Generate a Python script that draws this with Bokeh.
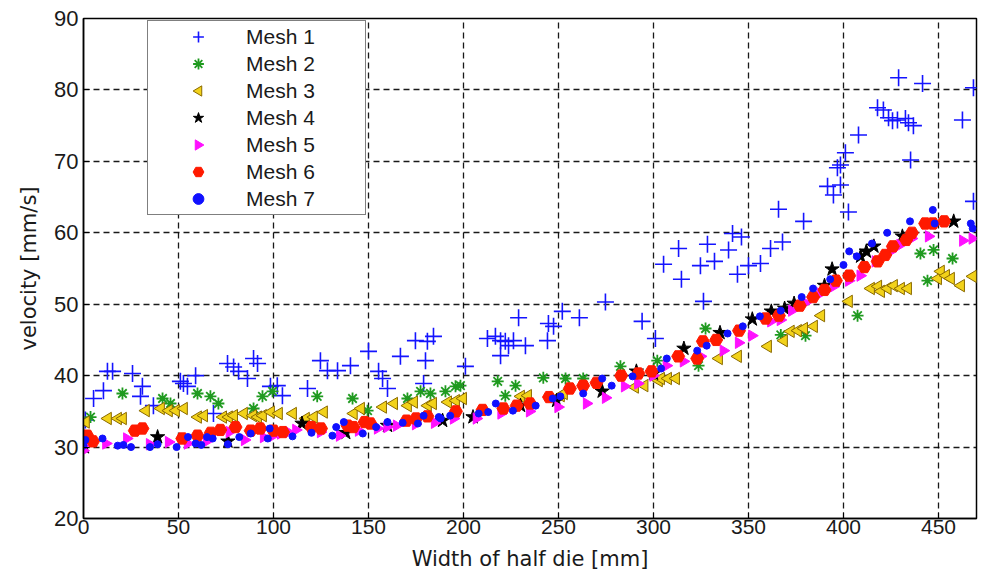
from bokeh.plotting import figure
from bokeh.models import Range1d, FixedTicker, Legend, LegendItem, CustomJS
from bokeh.embed import file_html
from bokeh.resources import INLINE

# ---------------- data ----------------
mesh1_x = [1, 5.3, 10.5, 12.6, 15.3, 25.8, 30, 31, 36.8, 51, 52.6, 54.7, 59, 68.4, 75.8, 79, 81.6,
           86.3, 89.5, 91.6, 98.4, 102, 104.7, 117.9, 124.7, 128.4, 133.7, 140.5, 150, 155.3, 157.4,
           160, 166.8, 174.7, 179, 180, 181, 184.2, 201, 212.6, 216.8, 219.5, 219.5, 222, 223.7,
           226.3, 229, 232.6, 244.2, 244.7, 247.4, 252, 261, 274.7, 294, 301, 305.3, 313.2, 314.7,
           324.7, 326.3, 328.4, 332.1, 339.5, 341.6, 344.2, 346.3, 350, 356.3, 361.6, 365.8, 367.9,
           379, 391.6, 394.7, 396.8, 398.4, 398.4, 401, 402.6, 407.9, 417.9, 421, 423.7, 425.8,
           428.4, 429, 432.6, 434.2, 435.3, 436.8, 441.6, 462.6, 468.4, 468.4]
mesh1_y = [33.8, 36.8, 37.9, 40.6, 40.6, 40.3, 37.1, 38.5, 35.8, 39.2, 38.9, 38.5, 40, 34.7, 41.7,
           41.2, 40.6, 39.6, 42.4, 41.7, 38.5, 38.6, 37.2, 38.2, 42.1, 40.7, 40.7, 41.4, 43.4, 40.6,
           39.6, 38.2, 42.7, 44.9, 38.9, 42.1, 44.8, 45.5, 41.3, 45.2, 45.5, 44.9, 42.8, 44.8, 44.2,
           44.9, 48.1, 44.2, 44.9, 47.3, 46.9, 49, 48.1, 50.3, 47.6, 45.2, 55.6, 57.8, 53.5, 55.4,
           50.4, 58.4, 56, 57.6, 59.9, 54.2, 59.4, 55.4, 55.7, 57.8, 63.3, 58.7, 61.6, 66.5, 65.3,
           69.1, 66.7, 69.5, 71.2, 62.9, 73.7, 77.5, 77.2, 76.1, 75.7, 75.8, 81.7, 76, 75.4, 70.2,
           75, 80.9, 75.8, 80.3, 64.4]

mesh2_x = [3.7, 20.5, 41.6, 45.8, 60, 66.8, 71, 89.5, 94.2, 99.5, 123, 141.6, 149.5, 170.5, 177.4,
           182.6, 190.5, 195.8, 198.4, 218, 222, 227.4, 242, 253.7, 263, 282.6, 302, 323.7, 327.4,
           367, 380, 407.4, 440.5, 444.2, 447.4, 457.4]
mesh2_y = [34.2, 37.5, 36.8, 36.1, 37.5, 37.1, 36.1, 35.4, 37.1, 37.8, 37.1, 36.8, 35.1, 36.8, 37.8,
           37.5, 37.8, 38.5, 38.6, 39.2, 37.2, 38.6, 39.7, 39.6, 39.6, 41.3, 42.1, 41.4, 46.6,
           45.7, 45.6, 48.4, 57.1, 53.3, 57.6, 56.4]

mesh3_x = [1, 12.6, 17.9, 20.5, 32.6, 40.5, 44.7, 48.4, 52.6, 60, 63.2, 73.2, 76.3, 79, 84.2, 89,
           91.6, 94.2, 98.4, 102.6, 110, 116.8, 121, 126.3, 142, 145.8, 157.4, 163.2, 170.5, 173.7,
           181, 183.7, 191.6, 195.8, 199.5, 230, 233.7, 251, 252.6, 290, 295, 302.6, 303.7, 307.4,
           311.6, 334.2, 344.2, 360, 368.4, 372, 375.8, 379, 384.2, 388, 402.6, 414.2, 418, 419.5,
           423, 426.3, 430, 433.7, 449.5, 451, 453.7, 456.3, 461.6, 467.9]
mesh3_y = [33.5, 34, 34, 34, 35.1, 35.4, 35.1, 35.1, 35.4, 34.2, 34.4, 34.2, 34.2, 34.4, 34.7, 34.4,
           34.2, 34.4, 34.9, 34.7, 34.7, 34, 34.2, 34.9, 34.7, 35.4, 35.6, 36.1, 35.8, 36.3, 35.8,
           36.1, 36.3, 36.5, 36.8, 37.1, 37.2, 37.2, 37.5, 38.4, 38.6, 39.3, 39.6, 39.6, 39.6, 42.4,
           42.7, 44.1, 44.9, 46.2, 46.3, 46.6, 46.9, 48.4, 50.4, 52.2, 52.5, 51.8, 52.2, 52.6, 52.2,
           52.2, 53.6, 54.6, 54, 53.6, 52.6, 53.9]

mesh4_x = [0.5, 39, 76, 115, 138, 160, 189, 205, 230, 249, 273, 291, 300, 316, 335, 352, 362, 369,
           374, 390, 394, 409, 412, 416, 431, 458]
mesh4_y = [30, 31.4, 30.8, 33.3, 32, 33, 33.7, 34.2, 35.8, 36.5, 37.8, 40.6, 40.3, 43.8, 46, 47.9,
           49, 49.4, 50.1, 52.6, 54.9, 56.7, 57.4, 58.1, 59.5, 61.6]

mesh5_x = [0, 4, 12, 23, 35, 45, 55, 65, 77, 85, 95, 100, 104, 108, 112, 125, 135, 145, 155, 160,
           165, 175, 185, 195, 207, 220, 235, 250, 265, 275, 285, 292, 300, 307, 316, 325, 337, 345,
           352, 362, 367, 373, 380, 388, 395, 403, 409, 417, 425, 430, 436, 445, 463, 468]
mesh5_y = [29.5, 30.7, 30.5, 31.2, 30.4, 30.7, 30.5, 30.8, 32.1, 31, 31.4, 31.6, 31.9, 32.1, 32.4,
           32.1, 31.6, 32.3, 32.6, 32.8, 33, 33.2, 33.4, 34, 34, 34.7, 35, 35.6, 36.1, 36.9, 38.5,
           38.9, 40, 41.4, 42, 42.7, 43.5, 44.6, 45.6, 47.6, 47.8, 49.1, 50.2, 51.5, 52.5, 53.3, 54,
           56, 57.4, 58.3, 59.2, 59.5, 58.9, 59.2]

mesh6_x = [0, 2, 5, 27, 31, 52, 60, 67, 72, 80, 88, 93, 100, 105, 120, 125, 139, 142, 148, 151,
           170, 175, 181, 196, 210, 221, 228, 235, 245, 256, 263, 270, 283, 292, 299, 313, 323, 326,
           333, 345, 359, 366, 377, 384, 390, 396, 403, 411, 418, 422, 426, 433, 436, 443, 447, 453]
mesh6_y = [31.2, 31.6, 30.8, 32.3, 32.6, 31.2, 31.6, 32, 32.4, 32.8, 32.3, 32.6, 32.3, 32.1, 32.8,
           32.6, 33, 32.8, 33.5, 33.3, 33.7, 34, 34.3, 35, 35.2, 35.4, 35.8, 36.1, 37, 38.2, 38.6,
           39, 40, 40.3, 40.6, 42.7, 42.4, 44.8, 45, 46.3, 48, 48.4, 49.8, 51, 52, 53.3, 54, 55.2,
           56, 56.9, 58.1, 59, 60, 61.3, 61.3, 61.6]

mesh7_x = [0, 1, 10, 18, 21, 25, 35, 39, 49, 55, 59, 62, 65, 68, 76, 82, 88, 97, 98, 110, 120, 131,
           133, 137, 147, 154, 160, 168, 176, 179, 187, 188, 193, 208, 213, 217, 226, 238, 247, 251,
           263, 273, 278, 289, 304, 307, 323, 328, 339, 347, 356, 367, 378, 384, 393, 400, 403, 407,
           415, 423, 435, 447, 448, 467, 468]
mesh7_y = [30.2, 31, 31.2, 30.2, 30.3, 30, 30, 30.4, 30, 31.4, 30.5, 30.3, 31.4, 31.2, 30.4, 31.4,
           31.9, 31.2, 32.6, 31.5, 32, 31.6, 32.8, 33.5, 31.9, 32.8, 33.5, 33.4, 33.3, 34.4, 34.2, 34,
           34.4, 34.7, 34.9, 36.1, 35.1, 35.8, 36.8, 37.1, 37.5, 39.6, 38.6, 39.9, 41, 42.4, 43.5,
           44.2, 45.9, 46.9, 48.3, 49.1, 51, 52.2, 53.5, 55.5, 57.4, 56.7, 58.5, 60, 61.6, 63.2,
           61.3, 61.3, 60.6]

x_ticks = [0, 50, 100, 150, 200, 250, 300, 350, 400, 450]
y_ticks = [20, 30, 40, 50, 60, 70, 80, 90]
series_names = ["Mesh 1", "Mesh 2", "Mesh 3", "Mesh 4", "Mesh 5", "Mesh 6", "Mesh 7"]

FONT = "Liberation Sans"
NARROW = "'Liberation Sans Narrow', 'Liberation Sans', sans-serif"
LABEL_FONT = "DejaVu Sans"

# custom left / right pointing triangle markers
tri_left = CustomJS(code="""
export default (args, obj, {ctx, i, r, visuals}) => {
    ctx.beginPath()
    ctx.moveTo(-r, 0)
    ctx.lineTo(0.6*r, -0.95*r)
    ctx.lineTo(0.6*r, 0.95*r)
    ctx.closePath()
    visuals.fill.apply(ctx, i)
    visuals.line.apply(ctx, i)
}
""")
tri_right = CustomJS(code="""
export default (args, obj, {ctx, i, r, visuals}) => {
    ctx.beginPath()
    ctx.moveTo(r, 0)
    ctx.lineTo(-0.6*r, -0.95*r)
    ctx.lineTo(-0.6*r, 0.95*r)
    ctx.closePath()
    visuals.fill.apply(ctx, i)
    visuals.line.apply(ctx, i)
}
""")

p = figure(width=994, height=578, output_backend="svg", toolbar_location=None,
           x_range=Range1d(0, 470), y_range=Range1d(20, 90),
           min_border_left=83, min_border_right=18, min_border_top=18, min_border_bottom=60)
p.background_fill_color = "white"
p.border_fill_color = "white"
p.outline_line_color = "black"
p.outline_line_width = 1.5

for ax in (p.xaxis, p.yaxis):
    ax.axis_line_color = "black"
    ax.axis_line_width = 1.5
    ax.major_tick_in = 6
    ax.major_tick_out = 0
    ax.minor_tick_line_color = None
    ax.major_tick_line_color = "black"
    ax.major_label_text_color = "#1a1a1a"
    ax.axis_label_text_font = LABEL_FONT
    ax.axis_label_text_font_size = "21px"
    ax.axis_label_text_font_style = "normal"
    ax.axis_label_text_color = "#1a1a1a"

p.xaxis.major_label_text_font = NARROW
p.xaxis.major_label_text_font_size = "21px"
p.yaxis.major_label_text_font = FONT
p.yaxis.major_label_text_font_size = "22px"

p.xaxis.ticker = FixedTicker(ticks=x_ticks)
p.yaxis.ticker = FixedTicker(ticks=y_ticks)
p.xaxis.axis_label = "Width of half die [mm]"
p.yaxis.axis_label = "velocity [mm/s]"
p.xaxis.major_label_standoff = 1
p.xaxis.axis_label_standoff = 10
p.yaxis.major_label_standoff = 5
p.yaxis.axis_label_standoff = 10

for g in (p.xgrid, p.ygrid):
    g.grid_line_color = "black"
    g.grid_line_dash = "6 4"
    g.grid_line_width = 1.3
    g.grid_line_alpha = 0.9

r1 = p.scatter(mesh1_x, mesh1_y, marker="cross", size=17, line_color="#1414ff", line_width=1.6)
r2 = p.scatter(mesh2_x, mesh2_y, marker="asterisk", size=12, line_color="#1f9a1f", line_width=1.8)
r3 = p.scatter(mesh3_x, mesh3_y, marker="@tri_left", defs={"@tri_left": tri_left}, size=13,
               fill_color="#f2d21a", line_color="#8a6a00", line_width=1)
r4 = p.scatter(mesh4_x, mesh4_y, marker="star", size=15, fill_color="black", line_color="black")
r5 = p.scatter(mesh5_x, mesh5_y, marker="@tri_right", defs={"@tri_right": tri_right}, size=12,
               fill_color="#ff10ff", line_color="#ff10ff")
r6 = p.scatter(mesh6_x, mesh6_y, marker="hex", size=13, fill_color="#ff1a00", line_color="#ff1a00")
r7 = p.scatter(mesh7_x, mesh7_y, marker="circle", size=7, fill_color="#1010ff", line_color="#1010ff")

items = [LegendItem(label=n, renderers=[r]) for n, r in
         zip(series_names, [r1, r2, r3, r4, r5, r6, r7])]
legend = Legend(items=items, location=(64, 303))
legend.label_text_font = FONT
legend.label_text_font_size = "21px"
legend.label_text_color = "#1a1a1a"
legend.border_line_color = "black"
legend.border_line_width = 1.5
legend.background_fill_color = "white"
legend.background_fill_alpha = 1
legend.padding = 2
legend.spacing = 0
legend.glyph_width = 96
legend.glyph_height = 27
legend.label_height = 27
legend.label_standoff = 0
legend.label_width = 117
legend.margin = 0
p.add_layout(legend, "center")

open("out.html", "w").write(file_html(p, INLINE))
